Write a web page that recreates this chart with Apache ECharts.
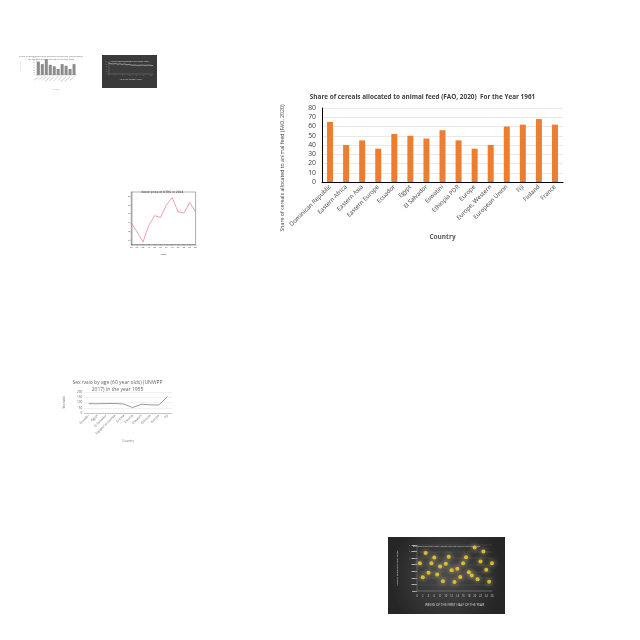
<!DOCTYPE html>
<html>
<head>
<meta charset="UTF-8">
<title>Charts</title>
<style>
  body { margin: 0; background: #fff; }
  #page { position: relative; width: 640px; height: 640px; }
  .box { position: absolute; }
  #cereal { left: 275px; top: 80px; width: 295px; height: 165px; }
  #greyBars { left: 12px; top: 48px; width: 78px; height: 47px; }
  #darkLine { left: 102px; top: 55px; width: 55px; height: 33px; }
  #stock { left: 125px; top: 183px; width: 75px; height: 77px; }
  #sexRatio { left: 55px; top: 370px; width: 125px; height: 85px; }
  #weekly { left: 388px; top: 537px; width: 117px; height: 77px; }
</style>
</head>
<body>
<div id="page">
  <div id="cereal" class="box"></div>
  <div id="greyBars" class="box"></div>
  <div id="darkLine" class="box"></div>
  <div id="stock" class="box"></div>
  <div id="sexRatio" class="box"></div>
  <div id="weekly" class="box"></div>
</div>
<script src="https://cdn.jsdelivr.net/npm/echarts@6/dist/echarts.min.js"></script>
<script>
// main chart data
var cerealCountries = ['Dominican Republic', 'Eastern Africa', 'Eastern Asia', 'Eastern Europe', 'Ecuador', 'Egypt',
  'El Salvador', 'Eswatini', 'Ethiopia PDR', 'Europe', 'Europe, Western', 'European Union', 'Fiji', 'Finland', 'France'];
var cerealShare = [65, 40, 45, 36, 52, 50, 47, 56, 45, 36, 40, 60, 62, 68, 62];

// small grey bar chart (top left)
var greyCats = ['Albania', 'Algeria', 'Angola', 'Argentina', 'Armenia', 'Australia', 'Austria', 'Bahamas', 'Belgium', 'Bolivia'];
var greyVals = [55, 45, 65, 42, 36, 25, 45, 38, 25, 45];

// small dark line chart
var darkX = ['1', '2', '3', '4', '5', '6', '7', '8', '9', '10', '11', '12', '13', '14', '15', '16', '17', '18', '19', '20'];
var darkVals = [92, 86, 84, 87, 82, 85, 80, 84, 77, 81, 73, 75, 73, 72, 74, 73, 72, 74, 73, 70];

// stock price line
var stockMonths = ['Jan', 'Feb', 'Mar', 'Apr', 'May', 'Jun', 'Jul', 'Aug', 'Sep', 'Oct', 'Nov', 'Dec'];
var stockPrice = [13.9, 11.9, 9.6, 13.4, 15.6, 15.2, 18.0, 19.7, 16.5, 16.2, 18.6, 16.5];

// sex ratio line
var sexCountries = ['Ecuador', 'Egypt', 'El Salvador', 'Equatorial Guinea', 'Eritrea', 'Estonia', 'Eswatini', 'Ethiopia', 'Europe', 'Fiji'];
var sexRatio = [89, 88, 90, 91, 85, 52, 83, 78, 76, 159];

// weekly scatter
var weekNum = [1, 2, 3, 4, 5, 6, 7, 8, 9, 10, 11, 12, 13, 14, 15, 16, 17, 18, 19, 20, 21, 22, 23, 24, 25, 26];
var weekIndex = [842, 416, 1160, 558, 842, 1017, 503, 744, 295, 831, 1039, 634, 273, 678, 427, 842, 1028, 569, 470, 1324, 361, 897, 1203, 645, 284, 842];

var font = 'Open Sans';

// ---- main bar chart
var c1 = echarts.init(document.getElementById('cereal'));
c1.setOption({
  animation: false,
  title: {
    text: 'Share of cereals allocated to animal feed (FAO, 2020)  For the Year 1961',
    left: 'center', top: 9,
    textStyle: { fontFamily: font, fontSize: 6.4, fontWeight: 'bold', color: '#404040' }
  },
  graphic: [{
    type: 'text', x: 8, y: 88, rotation: Math.PI / 2,
    style: {
      text: 'Share of cereals allocated to animal feed (FAO, 2020)',
      fontFamily: font, fontSize: 5.2, fill: '#404040', align: 'center', verticalAlign: 'middle'
    }
  }],
  grid: { left: 47, right: 7, top: 28, bottom: 63 },
  xAxis: {
    type: 'category',
    data: cerealCountries,
    name: 'Country', nameLocation: 'middle', nameGap: 52,
    nameTextStyle: { fontFamily: font, fontSize: 6.5, fontWeight: 'bold', color: '#595959' },
    axisLine: { lineStyle: { color: '#000', width: 1 } },
    axisTick: { show: false },
    axisLabel: { interval: 0, rotate: 45, margin: 4, fontFamily: font, fontSize: 6, color: '#404040' }
  },
  yAxis: {
    type: 'value', min: 0, max: 80, interval: 10,
    axisLine: { show: true, lineStyle: { color: '#000', width: 1 } },
    axisLabel: { fontFamily: font, fontSize: 6.8, color: '#404040', margin: 6 },
    splitLine: { lineStyle: { color: '#d9d9d9', width: 0.6 } }
  },
  series: [{ type: 'bar', data: cerealShare, barWidth: 6, itemStyle: { color: '#ED7D31' } }]
});

// ---- small grey bars
var c2 = echarts.init(document.getElementById('greyBars'));
c2.setOption({
  animation: false,
  title: {
    text: 'Share of population with access to electricity (World Bank)\nfor the selected countries in the year 2000',
    left: 'center', top: 2,
    textStyle: { fontFamily: font, fontSize: 2.2, color: '#999', lineHeight: 2.6 }
  },
  grid: { left: 12, right: 14, top: 10, bottom: 20 },
  xAxis: {
    type: 'category', data: greyCats,
    name: 'Country', nameLocation: 'middle', nameGap: 13,
    nameTextStyle: { fontSize: 2.2, color: '#aaa' },
    axisLine: { lineStyle: { color: '#999', width: 0.4 } },
    axisTick: { show: false },
    axisLabel: { interval: 0, rotate: 45, fontSize: 1.8, margin: 1.5, color: '#999' }
  },
  yAxis: {
    type: 'value', min: 0, max: 70, interval: 10,
    name: 'Share (%)', nameLocation: 'middle', nameGap: 6,
    nameTextStyle: { fontSize: 1.8, color: '#aaa' },
    axisLine: { show: true, lineStyle: { color: '#999', width: 0.4 } },
    axisLabel: { fontSize: 1.8, margin: 1.5, color: '#999' },
    splitLine: { lineStyle: { color: '#eee', width: 0.3 } }
  },
  series: [{ type: 'bar', data: greyVals, barWidth: 3, itemStyle: { color: '#8c8c8c' } }]
});

// ---- small dark line
var c3 = echarts.init(document.getElementById('darkLine'));
c3.setOption({
  animation: false,
  backgroundColor: '#3a3a3a',
  title: {
    text: 'Average daily temperature over twenty years',
    left: 'center', top: 1,
    textStyle: { fontSize: 1.8, color: '#bbb' }
  },
  grid: { left: 6, right: 4, top: 7, bottom: 8 },
  xAxis: {
    type: 'category', data: darkX, boundaryGap: false,
    name: 'YEARS OF OBSERVATION', nameLocation: 'middle', nameGap: 4,
    nameTextStyle: { fontSize: 1.8, color: '#ccc' },
    axisLine: { lineStyle: { color: '#888', width: 0.4 } },
    axisTick: { show: false },
    axisLabel: { fontSize: 1.4, margin: 1, color: '#999' }
  },
  yAxis: {
    type: 'value', min: 0, max: 100, interval: 20,
    axisLine: { show: true, lineStyle: { color: '#888', width: 0.4 } },
    axisLabel: { fontSize: 1.4, margin: 1, color: '#999' },
    splitLine: { lineStyle: { color: '#555', width: 0.3 } }
  },
  series: [{ type: 'line', data: darkVals, symbol: 'none', lineStyle: { color: '#d8d8d8', width: 0.6 } }]
});

// ---- stock price
var c4 = echarts.init(document.getElementById('stock'));
c4.setOption({
  animation: false,
  title: {
    text: 'Stock price of OTRS in 2014',
    left: 'center', top: 3,
    textStyle: { fontFamily: 'DejaVu Sans', fontSize: 3, fontWeight: 'normal', color: '#333' }
  },
  grid: { left: 5, right: 3, top: 9, bottom: 9, show: true, borderColor: '#333', borderWidth: 0.4 },
  xAxis: {
    type: 'category', data: stockMonths, boundaryGap: false,
    name: 'Month', nameLocation: 'middle', nameGap: 5.5,
    nameTextStyle: { fontSize: 2, color: '#333' },
    axisLine: { lineStyle: { color: '#333', width: 0.4 } },
    axisTick: { length: 1, lineStyle: { width: 0.3 } },
    axisLabel: { interval: 0, fontSize: 1.6, margin: 1.5, color: '#333' }
  },
  yAxis: {
    type: 'value', min: 9, max: 21,
    axisLine: { show: true, lineStyle: { color: '#333', width: 0.4 } },
    axisTick: { show: true, length: 1, lineStyle: { width: 0.3 } },
    axisLabel: { fontSize: 1.6, margin: 1.5, color: '#333', showMinLabel: false, showMaxLabel: false },
    splitLine: { show: false }
  },
  series: [{ type: 'line', data: stockPrice, symbol: 'none', lineStyle: { color: '#e8607a', width: 0.6 } }]
});

// ---- sex ratio
var c5 = echarts.init(document.getElementById('sexRatio'));
c5.setOption({
  animation: false,
  title: {
    text: 'Sex ratio by age (60 year olds) (UNWPP\n2017) in the year 1955',
    left: 'center', top: 4,
    textStyle: { fontFamily: font, fontSize: 5, fontWeight: 'normal', color: '#666', lineHeight: 7 }
  },
  grid: { left: 13, right: 8, top: 22, bottom: 42 },
  xAxis: {
    type: 'category', data: sexCountries,
    name: 'Country', nameLocation: 'middle', nameGap: 27,
    nameTextStyle: { fontFamily: font, fontSize: 3.2, color: '#777' },
    axisLine: { lineStyle: { color: '#999', width: 0.5 } },
    axisTick: { show: false },
    axisLabel: { interval: 0, rotate: 45, fontFamily: font, fontSize: 3.2, margin: 2, color: '#666' }
  },
  yAxis: {
    type: 'value', min: 0, max: 200, interval: 50,
    name: 'Sex ratio', nameLocation: 'middle', nameGap: 9,
    nameTextStyle: { fontFamily: font, fontSize: 3, color: '#666' },
    axisLabel: { fontFamily: font, fontSize: 3.2, margin: 2, color: '#666' },
    splitLine: { lineStyle: { color: '#e3e3e3', width: 0.5 } }
  },
  series: [{ type: 'line', data: sexRatio, symbol: 'none', lineStyle: { color: '#808080', width: 0.8 } }]
});

// ---- weekly scatter
var c6 = echarts.init(document.getElementById('weekly'));
c6.setOption({
  animation: false,
  backgroundColor: {
    type: 'radial', x: 0.5, y: 0.5, r: 0.75,
    colorStops: [{ offset: 0, color: '#4a4a4a' }, { offset: 1, color: '#262626' }]
  },
  title: {
    text: 'Reproduction rate index during the first half of the year 1996',
    left: 'center', top: 3,
    textStyle: { fontFamily: font, fontSize: 2.4, fontWeight: 'normal', color: '#ddd' }
  },
  grid: { left: 18, right: 13, top: 8, bottom: 23 },
  xAxis: {
    type: 'value', min: 0, max: 26, interval: 2,
    name: 'WEEKS OF THE FIRST HALF OF THE YEAR', nameLocation: 'middle', nameGap: 13,
    nameTextStyle: { fontFamily: font, fontSize: 3.2, color: '#ddd' },
    axisLine: { lineStyle: { color: '#999', width: 0.4 } },
    axisTick: { show: false },
    axisLabel: { fontFamily: font, fontSize: 2.6, margin: 4, color: '#ccc' },
    splitLine: { show: false }
  },
  yAxis: {
    type: 'value', min: 0, max: 1400, interval: 200,
    name: 'WEEKLY REPRODUCTION INDEX', nameLocation: 'middle', nameGap: 11,
    nameTextStyle: { fontFamily: font, fontSize: 2.4, color: '#ddd' },
    axisLine: { show: true, lineStyle: { color: '#999', width: 0.4 } },
    axisLabel: { fontFamily: font, fontSize: 2.4, margin: 2, color: '#ccc' },
    splitLine: { lineStyle: { color: '#5a5a5a', width: 0.4 } }
  },
  series: [{
    type: 'scatter',
    data: weekNum.map(function (w, i) { return [w, weekIndex[i]]; }),
    symbolSize: 4,
    itemStyle: { color: '#ffd21f', shadowBlur: 5, shadowColor: '#fff6a0' }
  }]
});
</script>
</body>
</html>
